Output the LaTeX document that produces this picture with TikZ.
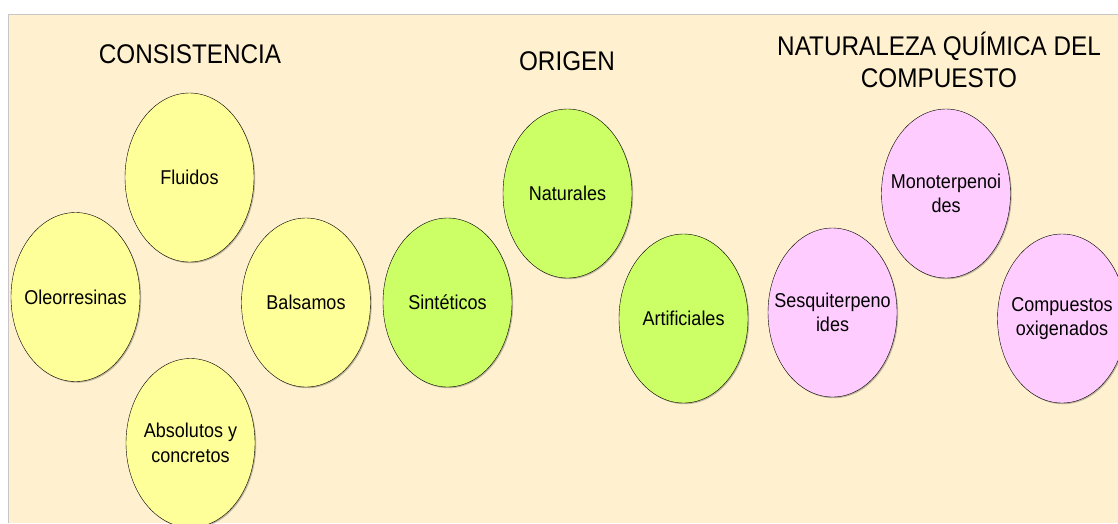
\documentclass[tikz,border=0pt]{standalone}
\usepackage{fontspec}
\setmainfont[FakeStretch=0.9]{Liberation Sans}
\usepackage{tikz}
\usetikzlibrary{shapes.geometric,positioning,shadows}

\definecolor{fondo}{HTML}{FFF1CF}
\definecolor{amarillo}{HTML}{FFFF99}
\definecolor{verde}{HTML}{CCFF66}
\definecolor{rosa}{HTML}{FFCCFF}

\tikzset{
    ovalo/.style={ellipse, draw=black, thin, fill=#1, minimum width=129pt, minimum height=169pt, inner sep=0pt,
        drop shadow={shadow xshift=1.2pt, shadow yshift=-1.2pt, fill=black, opacity=0.25}},
    etiqueta/.style={align=center, inner sep=0pt, font=\fontsize{20}{24.5}\selectfont},
    titulo/.style={align=center, inner sep=0pt, font=\fontsize{27}{32}\selectfont}
}

\begin{document}
\begin{tikzpicture}[x=1pt, y=-1pt]
    \useasboundingbox (0,0) rectangle (1118,523);
    \clip (0,0) rectangle (1118,523);
    % Background
    \fill[white] (0,0) rectangle (1118,523);
    \fill[fondo] (8.5,14.5) rectangle (1118,523);
    \draw[gray!45] (8.5,523) -- (8.5,14.5) -- (1118,14.5);

    % Titles
    \node[titulo] (consistencia) at (190, 54) {CONSISTENCIA};
    \node[titulo] (origen) at (567, 61) {ORIGEN};
    \node[titulo] (naturaleza) at (939, 60) {NATURALEZA QUÍMICA DEL\\COMPUESTO};

    % Consistencia
    \node[ovalo=amarillo] (fluidos) at (189.5, 177.5) {};
    \node[ovalo=amarillo] (oleo) at (75.5, 297) {};
    \node[ovalo=amarillo] (balsamos) at (306, 302.5) {};
    \node[ovalo=amarillo] (absolutos) at (190.5, 443) {};
    \node[etiqueta] (fluidos-t) at (fluidos) {Fluidos};
    \node[etiqueta] (oleo-t) at (oleo) {Oleorresinas};
    \node[etiqueta] (balsamos-t) at (balsamos) {Balsamos};
    \node[etiqueta] (absolutos-t) at (absolutos) {Absolutos y\\concretos};

    % Origen
    \node[ovalo=verde] (sinteticos) at (447.5, 302.5) {};
    \node[ovalo=verde] (naturales) at (567.5, 193.5) {};
    \node[ovalo=verde] (artificiales) at (683.5, 318.5) {};
    \node[etiqueta] (sinteticos-t) at (sinteticos) {Sintéticos};
    \node[etiqueta] (naturales-t) at (naturales) {Naturales};
    \node[etiqueta] (artificiales-t) at (artificiales) {Artificiales};

    % Naturaleza quimica
    \node[ovalo=rosa] (sesqui) at (832.5, 312.5) {};
    \node[ovalo=rosa] (mono) at (946, 193.5) {};
    \node[ovalo=rosa] (oxigenados) at (1062, 318.5) {};
    \node[etiqueta] (sesqui-t) at (sesqui) {Sesquiterpeno\\ides};
    \node[etiqueta] (mono-t) at (mono) {Monoterpenoi\\des};
    \node[etiqueta] (oxigenados-t) at (oxigenados) {Compuestos\\oxigenados};
\end{tikzpicture}
\end{document}
